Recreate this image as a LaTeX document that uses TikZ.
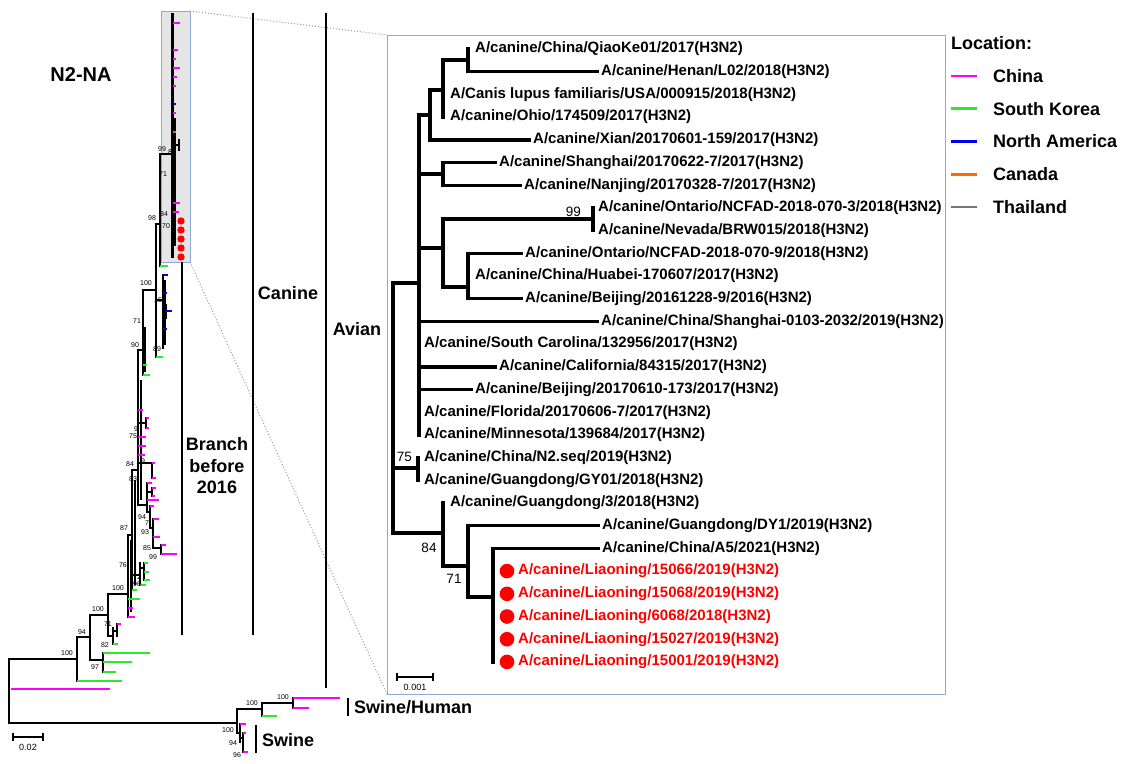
\documentclass[tikz,border=0pt]{standalone}
\usepackage{fontspec}
\setmainfont{Liberation Sans}
\usetikzlibrary{positioning}
\definecolor{cnmag}{HTML}{FF00FF}
\definecolor{krgrn}{HTML}{2EE82E}
\definecolor{nablu}{HTML}{0000EE}
\definecolor{caorg}{HTML}{FF6A00}
\definecolor{thgry}{HTML}{767676}
\definecolor{boxblu}{HTML}{8EA9DB}
\definecolor{lnred}{HTML}{FF0000}
\tikzset{
  br/.style={line width=2.4pt,line cap=rect},
  ibr/.style={line width=3.4pt,line cap=rect},
  tip/.style={line width=2.2pt},
  bs/.style={font=\fontsize{7}{8}\selectfont,inner sep=0pt},
  ibs/.style={font=\fontsize{13.5}{15}\selectfont,inner sep=0pt},
  taxon/.style={anchor=west,inner sep=0pt,font=\fontsize{15}{17}\selectfont\bfseries},
  lnstrain/.style={taxon,text=lnred},
  lndot/.style={circle,fill=lnred,inner sep=0pt,minimum size=14.6pt},
  group/.style={inner sep=0pt,font=\fontsize{18}{21.5}\selectfont\bfseries},
  sect/.style={line width=2pt},
  zoomln/.style={black!40,dotted,line width=1pt},
}
\begin{document}
\begin{tikzpicture}[x=1pt,y=-1pt]
\useasboundingbox (0,0) rectangle (1127,763);
% zoomed part and frames
\draw[boxblu,fill=black!10,line width=1pt] (161,11) rectangle (190,262);
\coordinate (zt) at (190,11);
\coordinate (zb) at (190,262);
\coordinate (it) at (387,35);
\coordinate (ib) at (387,694);
\draw[zoomln] (zt) -- (it);
\draw[zoomln] (zb) -- (ib);
\draw[boxblu,line width=1pt] (it) rectangle (945,694);
% group bars
\draw[sect] (182,262) -- (182,635);
\draw[sect] (253,13) -- (253,635);
\draw[sect] (326,13) -- (326,688);
\node[inner sep=0pt,font=\fontsize{20}{22}\selectfont\bfseries] (n2na) at (81,75) {N2-NA};
\node[group] (canine) at (288,293) {Canine};
\node[group] (avian) at (357,329) {Avian};
\node[group,align=center] (early) at (217,466) {Branch\\before\\2016};
\draw[sect] (348,698) -- (348,716);
\node[group,anchor=west] (swhu) at (354,707) {Swine/Human};
\draw[sect] (256,725) -- (256,753);
\node[group,anchor=west] (swine) at (262,740) {Swine};

% full tree
\draw[br] (77,659) -| (9,723) -- (237,723);
\draw[tip,cnmag] (11,689) -- (110,689);
\draw[br] (90,637) -| (77,681);
\draw[tip,krgrn] (77,681) -- (122,681);
\draw[br] (108,615) -| (90,660) -- (103,660);
\draw[br] (103,653) -- (103,672);
\draw[tip,krgrn] (103,653) -- (150,653) (103,662) -- (132,662) (103,672) -- (116,672);
\draw[br] (128,594) -| (108,636) -- (113,636);
\draw[br] (113,628) -- (113,644) (113,631) -- (117,631) (117,624) -- (117,636);
\draw[tip,cnmag] (117,624) -- (121,624);
\draw[tip,krgrn] (113,644) -- (118,644);
\draw[br] (132,535) -| (128,617);
\draw[line width=2pt] (130.5,540) -- (130.5,612);
\draw[tip,krgrn] (128,599) -- (140,599);
\draw[tip,cnmag] (128,608) -- (133,608) (128,617) -- (135,617);
\draw[br] (138,470) -| (132,590);
\draw[line width=2pt] (135,480) -- (135,585);
\draw[br] (132,575) -- (140,575) (140,563) -- (140,585) (140,568) -- (144,568) (144,563) -- (144,580);
\draw[tip,krgrn] (144,563) -- (148,563) (144,572) -- (149,572) (144,580) -- (150,580) (140,585) -- (146,585) (132,590) -- (137,590);
\draw[br] (143,350) -| (138,505) -- (147,505);
\draw[line width=2pt] (140.5,380) -- (140.5,500);
\draw[br] (147,483) -- (147,512);
\draw[tip,cnmag] (147,483) -- (152,483) (147,500) -- (159,500);
\draw[br] (147,492) -- (152,492) (152,488) -- (152,496);
\draw[tip,cnmag] (152,488) -- (156,488) (152,496) -- (155,496);
\draw[br] (147,512) -- (150,512) (150,506) -- (150,528) (150,528) -- (153,528) (153,519) -- (153,548) (153,548) -- (161,548) (161,545) -- (161,554);
\draw[tip,cnmag] (150,506) -- (154,506) (153,519) -- (159,519) (153,537) -- (160,537) (161,545) -- (166,545) (161,554) -- (177,554);
\draw[br] (138,463) -- (152,463) (152,463) -- (152,478);
\draw[tip,cnmag] (152,463) -- (155,463) (152,478) -- (156,478);
\draw[tip,cnmag] (138,410) -- (143,410) (138,437) -- (146,437) (138,446) -- (146,446) (138,455) -- (145,455);
\draw[br] (138,423) -- (146,423) (146,418) -- (146,428);
\draw[tip,cnmag] (146,418) -- (149,418) (146,428) -- (149,428);
\draw[br] (156,290) -| (143,375);
\draw[line width=2pt] (145,327) -- (145,372);
\draw[tip,krgrn] (143,365) -- (147,365) (143,375) -- (150,375);
\draw[br] (160,224) -| (156,357);
\draw[tip,krgrn] (156,357) -- (163,357);
\draw[br] (156,300) -- (163,300) (163,275) -- (163,348) (163,311) -- (166,311) (166,305) -- (166,318);
\draw[line width=2pt] (165,280) -- (165,345);
\draw[tip,nablu] (163,275) -- (168,275) (163,293) -- (167,293) (166,311) -- (172,311) (163,329) -- (167,329);
\draw[br] (172,154) -| (160,266);
\draw[tip,krgrn] (160,266) -- (168,266);
\draw[line width=3pt] (172,13) -- (172,258);
\draw[line width=2pt] (174.5,118) -- (174.5,246);
\draw[br] (172,145) -- (179,145) (179,140) -- (179,150);
\foreach \y/\l in {23/7,50/5,59/3,68/7,77/4,86/3,113/3,203/7,212/6}
  \draw[tip,cnmag] (173,\y) -- ++(\l,0);
\draw[tip,nablu] (173,104) -- ++(3,0);
\draw[tip,caorg] (173,132) -- ++(3,0);
\foreach \y [count=\i] in {221,230,239,248,257}
  \node[circle,fill=lnred,inner sep=0pt,minimum size=7.4pt] (rd\i) at (181,\y) {};
% swine lineages
\draw[br] (262,709) -| (237,733) -- (240,733);
\draw[br] (293,703) -| (262,716);
\draw[tip,krgrn] (262,716) -- (277,716);
\draw[br] (293,698) -- (293,708);
\draw[tip,cnmag] (293,698) -- (340,698) (293,708) -- (309,708);
\draw[br] (240,724) -- (240,742) (240,738) -- (243,738) (243,733) -- (243,752);
\draw[tip,cnmag] (240,724) -- (246,724) (243,733) -- (246,733) (243,752) -- (248,752);
\foreach \x/\y/\v [count=\i] in {67/653/100,82/632/94,98/609/100,95/667/97,118/588/100,108/624/71,105/645/82,
  124/528/87,123/565/76,137/577/72,137/584/96,130/464/84,133/479/83,143/461/9,133/436/75,136/429/9,
  135/345/90,137/321/71,146/283/100,157/349/89,158/300/15,152/218/98,162/149/99,172/152/89,
  163/174/71,164/214/84,166/226/70,142/517/94,147/523/7,145/532/93,147/548/85,153/557/99,
  228/730/100,233/743/94,237/755/96,252/703/100,283/697/100}
  \node[bs] (bs\i) at (\x,\y) {\v};
\draw[line width=1.2pt] (13,733) -- (13,741) (13,737) -- (43,737) (43,733) -- (43,741);
\node[inner sep=0pt,font=\fontsize{9}{10}\selectfont] (sbar) at (28,747) {0.02};

% inset tree
\node[taxon] (t1) at (475,49) {A/canine/China/QiaoKe01/2017(H3N2)};
\node[taxon] (t2) at (601,71.7) {A/canine/Henan/L02/2018(H3N2)};
\node[taxon] (t3) at (450,94.4) {A/Canis lupus familiaris/USA/000915/2018(H3N2)};
\node[taxon] (t4) at (450,117.1) {A/canine/Ohio/174509/2017(H3N2)};
\node[taxon] (t5) at (533,139.8) {A/canine/Xian/20170601-159/2017(H3N2)};
\node[taxon] (t6) at (499,162.5) {A/canine/Shanghai/20170622-7/2017(H3N2)};
\node[taxon] (t7) at (524,185.2) {A/canine/Nanjing/20170328-7/2017(H3N2)};
\node[taxon] (t8) at (598,207.9) {A/canine/Ontario/NCFAD-2018-070-3/2018(H3N2)};
\node[taxon] (t9) at (598,230.6) {A/canine/Nevada/BRW015/2018(H3N2)};
\node[taxon] (t10) at (525,253.3) {A/canine/Ontario/NCFAD-2018-070-9/2018(H3N2)};
\node[taxon] (t11) at (475,276) {A/canine/China/Huabei-170607/2017(H3N2)};
\node[taxon] (t12) at (525,298.7) {A/canine/Beijing/20161228-9/2016(H3N2)};
\node[taxon] (t13) at (601,321.4) {A/canine/China/Shanghai-0103-2032/2019(H3N2)};
\node[taxon] (t14) at (424,344.1) {A/canine/South Carolina/132956/2017(H3N2)};
\node[taxon] (t15) at (499,366.8) {A/canine/California/84315/2017(H3N2)};
\node[taxon] (t16) at (475,389.5) {A/canine/Beijing/20170610-173/2017(H3N2)};
\node[taxon] (t17) at (424,412.2) {A/canine/Florida/20170606-7/2017(H3N2)};
\node[taxon] (t18) at (424,434.9) {A/canine/Minnesota/139684/2017(H3N2)};
\node[taxon] (t19) at (424,457.6) {A/canine/China/N2.seq/2019(H3N2)};
\node[taxon] (t20) at (424,480.3) {A/canine/Guangdong/GY01/2018(H3N2)};
\node[taxon] (t21) at (450,503) {A/canine/Guangdong/3/2018(H3N2)};
\node[taxon] (t22) at (602,525.7) {A/canine/Guangdong/DY1/2019(H3N2)};
\node[taxon] (t23) at (602,548.4) {A/canine/China/A5/2021(H3N2)};
\node[lndot] (d24) at (507,571.1) {};
\node[lndot] (d25) at (507,593.8) {};
\node[lndot] (d26) at (507,616.5) {};
\node[lndot] (d27) at (507,639.2) {};
\node[lndot] (d28) at (507,661.9) {};
\node[lnstrain,right=3.5pt of d24] (t24) {A/canine/Liaoning/15066/2019(H3N2)};
\node[lnstrain,right=3.5pt of d25] (t25) {A/canine/Liaoning/15068/2019(H3N2)};
\node[lnstrain,right=3.5pt of d26] (t26) {A/canine/Liaoning/6068/2018(H3N2)};
\node[lnstrain,right=3.5pt of d27] (t27) {A/canine/Liaoning/15027/2019(H3N2)};
\node[lnstrain,right=3.5pt of d28] (t28) {A/canine/Liaoning/15001/2019(H3N2)};
\coordinate (iR) at (393,283);
\coordinate (iA) at (419,283);
\coordinate (iB) at (430,115);
\coordinate (iC) at (443,90);
\coordinate (iD) at (468,60);
\coordinate (iE) at (443,174);
\coordinate (iF) at (443,248);
\coordinate (iG) at (593,219);
\coordinate (iH) at (468,287);
\coordinate (i75) at (418,468);
\coordinate (i84) at (443,533);
\coordinate (i71) at (468,566);
\coordinate (iL) at (493,597);
\draw[ibr] (iR) -- (iR |- i84);
\draw[ibr] (iA |- iB) -- (iA |- t18);
\draw[ibr] (iB |- iC) -- (iB |- t5);
\draw[ibr] (iC |- iD) -- (iC |- t4);
\draw[ibr] (iD |- t1) -- (iD |- t2);
\draw[ibr] (iE |- t6) -- (iE |- t7);
\draw[ibr] (iF |- iG) -- (iF |- iH);
\draw[ibr] (iG |- t8) -- (iG |- t9);
\draw[ibr] (iH |- t10) -- (iH |- t12);
\draw[ibr] (i75 |- t19) -- (i75 |- t20);
\draw[ibr] (i84 |- t21) -- (i84 |- i71);
\draw[ibr] (i71 |- t22) -- (i71 |- iL);
\draw[ibr] (iL |- t23) -- (iL |- t28);
\path[ibr] (iR) edge (iA)
  (iR |- i75) edge (i75)
  (iR |- i84) edge (i84)
  (iA |- iB) edge (iB)
  (iB |- iC) edge (iC)
  (iC |- iD) edge (iD)
  (iA |- iE) edge (iE)
  (iA |- iF) edge (iF)
  (iF |- iG) edge (iG)
  (iF |- iH) edge (iH)
  (i84 |- i71) edge (i71)
  (i71 |- iL) edge (iL);
\path[ibr,shorten >=4pt] (iD |- t2) edge (t2.west)
  (iB |- t5) edge (t5.west)
  (iE |- t6) edge (t6.west)
  (iE |- t7) edge (t7.west)
  (iH |- t10) edge (t10.west)
  (iH |- t12) edge (t12.west)
  (iA |- t13) edge (t13.west)
  (iA |- t15) edge (t15.west)
  (iA |- t16) edge (t16.west)
  (i71 |- t22) edge (t22.west)
  (iL |- t23) edge (t23.west);
\node[ibs,anchor=east] (b99) at (581,212) {99};
\node[ibs,anchor=east] (b75) at (412,457) {75};
\node[ibs] (b84) at (429,548) {84};
\node[ibs] (b71) at (454,579) {71};
\draw[line width=1.2pt] (397,673) -- (397,681) (397,677) -- (433,677) (433,673) -- (433,681);
\node[inner sep=0pt,font=\fontsize{9}{10}\selectfont] (ibar) at (415,687) {0.001};

% legend
\node[group,anchor=west] (loc) at (951,43) {Location:};
\foreach \c/\t [count=\i] in {cnmag/China,krgrn/South Korea,nablu/North America,caorg/Canada,thgry/Thailand} {
  \draw[\c,line width=2.6pt] (951,{76+32.75*(\i-1)}) -- ++(26,0);
  \node[group,anchor=west] (lg\i) at (993,{76+32.75*(\i-1)}) {\t};
}
\end{tikzpicture}
\end{document}
